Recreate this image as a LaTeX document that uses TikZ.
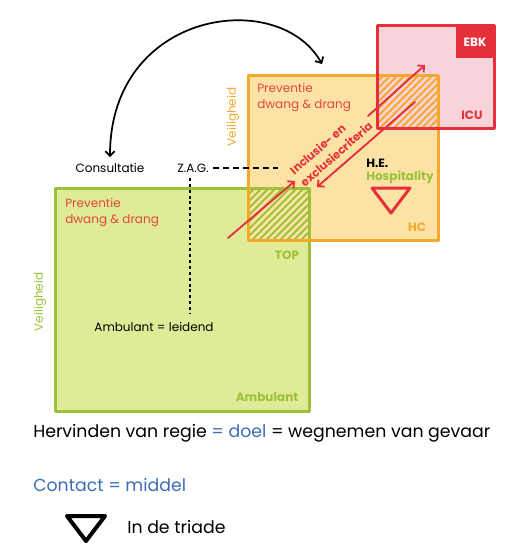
\documentclass[tikz,border=0pt]{standalone}
\usepackage{fontspec}
\setmainfont{Poppins}
\usetikzlibrary{arrows.meta}
\definecolor{lime}{HTML}{9CC23A}
\definecolor{limefill}{HTML}{DFEB96}
\definecolor{oranje}{HTML}{F4A82C}
\definecolor{oranjefill}{HTML}{FCE2A4}
\definecolor{rood}{HTML}{E5303B}
\definecolor{roodfill}{HTML}{F9D3DA}
\definecolor{tekstrood}{HTML}{E2463A}
\definecolor{blauw}{HTML}{3D6DB6}
\begin{document}
\begin{tikzpicture}[x=0.75pt,y=-0.75pt, font=\fontsize{9}{12}\selectfont, line join=round, line cap=round,
	>={Straight Barb[length=3.5pt,width=7pt]},
	lbl/.style={inner sep=0pt},
	vet/.style={lbl,font=\fontsize{9}{12}\selectfont\bfseries},
	groot/.style={lbl,anchor=west,font=\fontsize{13}{15}\selectfont},
	kader/.style={line width=2.25pt},
	pijl/.style={->,rood,line width=1.4pt},
	streep/.style={line width=1.4pt}]
	\useasboundingbox (0,0) rectangle (514,546);
	% vlakken
	\fill[limefill] (55,188) rectangle (309,411);
	\fill[oranjefill] (248,75) rectangle (438,240);
	\fill[roodfill] (377,25) rectangle (494,128);
	\fill[rood] (456,25) rectangle (494,58);
	% overlap gearceerd
	\begin{scope}
		\clip (248,188) rectangle (309,240);
		\foreach \a in {186,193,...,300} \draw[lime,streep] (\a,250)--++(70,-70);
	\end{scope}
	\begin{scope}
		\clip (377,75) rectangle (438,128);
		\foreach \a in {317,324,...,431} \draw[oranje,streep] (\a,135)--++(70,-70);
	\end{scope}
	\draw[lime,kader] (55,188) rectangle (309,411);
	\draw[oranje,kader] (248,75) rectangle (438,240);
	\draw[rood,kader] (377,25) rectangle (494,128);
	
	\node[vet,white] (ebk) at (475,42) {EBK};
	\node[vet,rood] (icu) at (472,115) {ICU};
	\node[vet,oranje] (hc) at (417,227) {HC};
	\node[vet,lime] (top) at (287,255) {TOP};
	\node[vet,lime] (amb) at (267,397) {Ambulant};
	\node[lbl,tekstrood,align=left,anchor=west] (prevhc) at (257,98) {Preventie\\dwang \& drang};
	\node[lbl,tekstrood,align=left,anchor=west] (prevamb) at (65,213) {Preventie\\dwang \& drang};
	\node[lbl,oranje,rotate=90] (veilhc) at (233,117) {Veiligheid};
	\node[lbl,lime,rotate=90] (veilamb) at (40,302) {Veiligheid};
	\node[vet,anchor=west] (he) at (366,163) {H.E.};
	\node[vet,lime,anchor=west] (hosp) at (366,177) {Hospitality};
	\node[vet,rood,rotate=41,align=left,font=\fontsize{8.5}{12}\selectfont\bfseries] (crit) at (331,148) {Inclusie- en\\exclusiecriteria};
	\node[lbl] (cons) at (110,168) {Consultatie};
	\node[lbl] (zag) at (193,168) {Z.A.G.};
	\node[lbl] (leid) at (154,327) {Ambulant = leidend};
	\draw[rood,line width=2.25pt] (372,188)--(410,188)--(391,213)--cycle;
	
	\coordinate (hcboven) at (322,64);
	\coordinate (zagonder) at (190,178);
	\coordinate (leidboven) at (190,313);
	\coordinate (zageind) at (278,168);
	\coordinate (a1) at (228,238); \coordinate (b1) at (295,181);
	\coordinate (a2) at (368,116); \coordinate (b2) at (425,65);
	\coordinate (a3) at (415,102); \coordinate (b3) at (317,187);
	\draw[<->,line width=1.3pt] (cons.north) ++(0,-6) .. controls (110,10) and (279,-13) .. (hcboven);
	\draw[line width=1.6pt,dash pattern=on 2.2pt off 2.2pt,line cap=butt] (zagonder)--(leidboven);
	\draw[line width=1.3pt,dash pattern=on 4.5pt off 3pt,line cap=butt] (zag.east) ++(4,0)--(zageind);
	\draw[pijl] (a1)--(b1);
	\draw[pijl] (a2)--(b2);
	\draw[pijl] (a3)--(b3);
	
	\node[groot] (regie) at (33,433) {Hervinden van regie {\color{blauw}= doel} = wegnemen van gevaar};
	\node[groot,blauw] (contact) at (33,485) {Contact = middel};
	\draw[line width=3pt] (67,516)--(105,516)--(86,541)--cycle;
	\node[groot] (triade) at (127,527) {In de triade};
\end{tikzpicture}
\end{document}
